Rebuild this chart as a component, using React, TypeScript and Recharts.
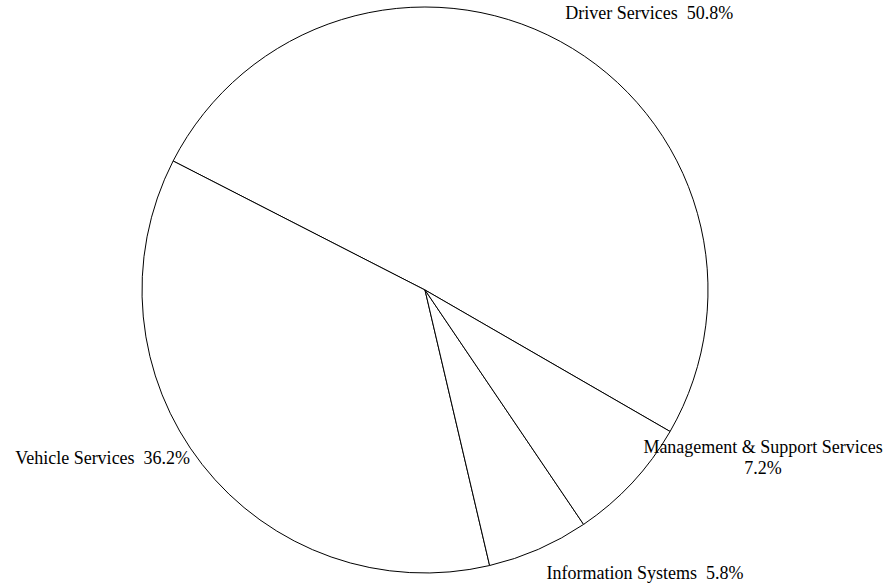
import React from 'react';
import { PieChart, Pie, Cell } from 'recharts';

// budget share by division, percent of total
const divisions = ['Driver Services', 'Vehicle Services', 'Information Systems', 'Management & Support Services'];
const shares = [50.8, 36.2, 5.8, 7.2];

const data = divisions.map((name, i) => ({ name, value: shares[i] }));

const RAD = Math.PI / 180;
const FONT = '"Liberation Serif", "Times New Roman", serif';

// small per-label nudges from the slice edge point (label placement only)
const nudge = [
  { dx: 5, dy: -22 },
  { dx: -12, dy: 0 },
  { dx: 8, dy: 30 },
  { dx: 131, dy: -30 },
];

const renderLabel = (props: any) => {
  const { cx, cy, midAngle, outerRadius, index, name, value } = props;
  const x0 = cx + outerRadius * Math.cos(-midAngle * RAD);
  const y0 = cy + outerRadius * Math.sin(-midAngle * RAD);
  const x = x0 + nudge[index].dx;
  const y = y0 + nudge[index].dy;
  const pct = `${Number(value).toFixed(1)}%`;
  const common = { fontFamily: FONT, fontSize: 18, fill: '#000', style: { whiteSpace: 'pre' as const } };

  if (name.length > 24) {
    return (
      <text x={x} y={y} textAnchor="middle" {...common}>
        <tspan x={x} dy={0}>{name}</tspan>
        <tspan x={x} dy={21}>{pct}</tspan>
      </text>
    );
  }
  const anchor = Math.cos(-midAngle * RAD) >= 0 ? 'start' : 'end';
  return (
    <text x={x} y={y} textAnchor={anchor} {...common}>
      {`${name}  ${pct}`}
    </text>
  );
};

export default function App() {
  return (
    <div style={{ position: 'absolute', left: 0, top: 0, background: '#fff' }}>
      <PieChart width={888} height={587} margin={{ top: 0, right: 0, bottom: 0, left: 0 }}>
        <Pie
          data={data}
          dataKey="value"
          nameKey="name"
          cx={425}
          cy={290}
          outerRadius={283}
          startAngle={-30}
          endAngle={330}
          stroke="#000"
          strokeWidth={1}
          label={renderLabel}
          labelLine={false}
          isAnimationActive={false}
        >
          {data.map((d) => (
            <Cell key={d.name} fill="#fff" />
          ))}
        </Pie>
      </PieChart>
    </div>
  );
}
